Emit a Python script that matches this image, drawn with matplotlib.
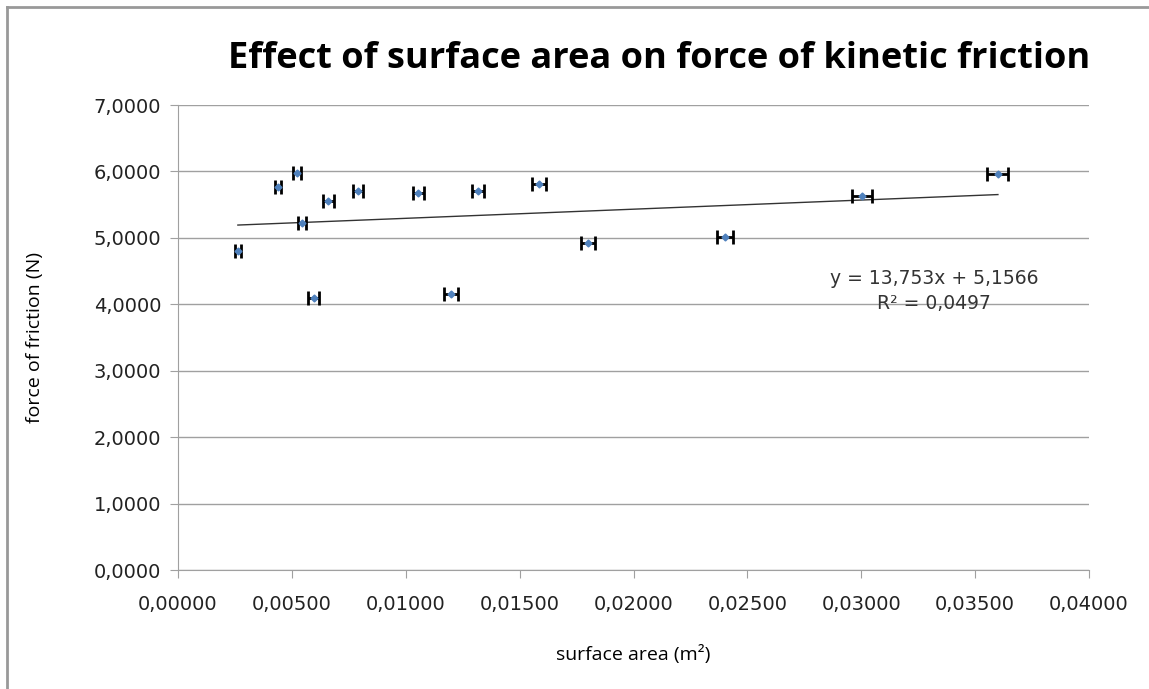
import matplotlib
matplotlib.use("Agg")
import matplotlib.pyplot as plt
import numpy as np
from matplotlib.lines import Line2D

# surface area (m^2), friction force (N), x uncertainty
area = [0.00263, 0.00439, 0.00523, 0.00544, 0.00597, 0.00659, 0.00790, 0.01054,
        0.01199, 0.01317, 0.01585, 0.01800, 0.02400, 0.03003, 0.03600]
force = [4.80, 5.77, 5.98, 5.22, 4.09, 5.555, 5.705, 5.675,
         4.155, 5.705, 5.81, 4.92, 5.01, 5.63, 5.96]
area_err = [0.00013, 0.00015, 0.00018, 0.00018, 0.00024, 0.00024, 0.00022, 0.00024,
            0.00029, 0.00026, 0.00031, 0.00031, 0.00035, 0.00042, 0.00046]

slope = 13.753
intercept = 5.1566
r2 = 0.0497

def comma(v, nd):
    return f"{v:.{nd}f}".replace(".", ",")

fig = plt.figure(figsize=(11.49, 6.89), dpi=100)
ax = fig.add_axes([0.1549, 0.1727, 0.7929, 0.6749])

ax.errorbar(area, force, xerr=area_err, fmt='D', color='#4F81BD', ms=3.5,
            ecolor='black', elinewidth=2.0, capsize=5, capthick=2.0, zorder=3)

xs = np.array([min(area), max(area)])
ax.plot(xs, slope * xs + intercept, color='#333333', lw=1.0, zorder=2)

ax.set_xlim(0, 0.04)
ax.set_ylim(0, 7)
xt = np.arange(0, 0.0401, 0.005)
yt = np.arange(0, 7.01, 1)
ax.set_xticks(xt)
ax.set_xticklabels([comma(v, 5) for v in xt])
ax.set_yticks(yt)
ax.set_yticklabels([comma(v, 4) for v in yt])
ax.tick_params(labelsize=14, color='#a0a0a0', length=6, pad=6, labelcolor='#222222')
ax.tick_params(axis='x', pad=12)
ax.yaxis.grid(True, color='#a0a0a0', lw=1.0)
ax.set_axisbelow(True)
for s in ['top', 'right']:
    ax.spines[s].set_visible(False)
for s in ['left', 'bottom']:
    ax.spines[s].set_color('#a0a0a0')

ax.set_xlabel('surface area (m²)', fontsize=14, family='Open Sans', labelpad=22)
ax.set_ylabel('force of friction (N)', fontsize=14, family='Open Sans', labelpad=36)

fig.text(0.5735, 0.914, 'Effect of surface area on force of kinetic friction',
         ha='center', va='center', fontsize=26, fontweight='bold', family='Open Sans')

ax.text(0.0332, 4.2, f"y = {comma(slope, 3)}x + {comma(intercept, 4)}\nR² = {comma(r2, 4)}",
        ha='center', va='center', fontsize=13.5, color='#333333', linespacing=1.45)

# outer chart border
fig.add_artist(Line2D([0.0061, 0.0061], [0, 0.99], transform=fig.transFigure, color='#999999', lw=2))
fig.add_artist(Line2D([0.0061, 1], [0.99, 0.99], transform=fig.transFigure, color='#999999', lw=2))

fig.savefig('out.png', dpi=100)
